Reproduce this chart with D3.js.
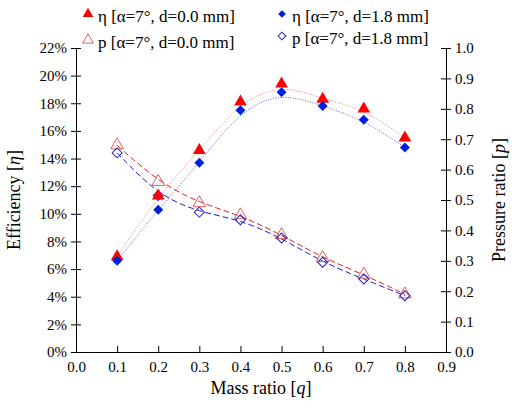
<!DOCTYPE html><html><head><script src="https://cdn.jsdelivr.net/npm/d3@7"></script>
<style>body{margin:0;background:#fff}text{font-family:"Liberation Serif",serif}</style></head><body><svg width="524" height="411"></svg>
<script>
const q=[0.1,0.2,0.3,0.4,0.5,0.6,0.7,0.8];
const effA=[6.9,11.3,14.6,18.1,19.4,18.3,17.6,15.5];
const effB=[6.6,10.3,13.7,17.5,18.8,17.8,16.8,14.8];
const prA=[0.68,0.56,0.49,0.45,0.385,0.31,0.255,0.19];
const prB=[0.655,0.515,0.46,0.435,0.375,0.295,0.24,0.185];
const svg=d3.select("svg");
const L=76,R=446,T=48,B=352;
const x=d3.scaleLinear([0,0.9],[L,R]);
const yl=d3.scaleLinear([0,22],[B,T]);
const yr=d3.scaleLinear([0,1],[B,T]);
const fs="15px";
const ax=svg.append("g").attr("transform",`translate(0,${B})`).call(d3.axisBottom(x).ticks(9).tickFormat(d3.format(".1f")).tickSizeInner(6).tickSizeOuter(0));
ax.selectAll(".tick line").attr("y1",-6).attr("y2",0);
const al=svg.append("g").attr("transform",`translate(${L},0)`).call(d3.axisLeft(yl).tickValues(d3.range(0,23,2)).tickFormat(d=>d+"%").tickSizeOuter(0).tickSizeInner(6));
al.selectAll(".tick line").attr("x1",-5).attr("x2",5);
const ar=svg.append("g").attr("transform",`translate(${R},0)`).call(d3.axisRight(yr).ticks(10).tickFormat(d3.format(".1f")).tickSizeOuter(0).tickSizeInner(6));
ar.selectAll(".tick line").attr("x1",-5).attr("x2",5);
[ax,al,ar].forEach(g=>g.attr("font-family","Liberation Serif").attr("font-size",15));
svg.selectAll(".tick text").style("font-size",fs).style("font-family","'Liberation Serif'");
svg.selectAll(".domain").attr("stroke","#000");
svg.append("text").attr("x",261).attr("y",394).attr("text-anchor","middle").style("font-size","18px").html('Mass ratio [<tspan font-style="italic">q</tspan>]');
svg.append("text").attr("transform","translate(20,200) rotate(-90)").attr("text-anchor","middle").style("font-size","18px").html('Efficiency [<tspan font-style="italic">η</tspan>]');
svg.append("text").attr("transform","translate(505,200) rotate(-90)").attr("text-anchor","middle").style("font-size","18px").html('Pressure ratio [<tspan font-style="italic">p</tspan>]');
function line(ys,sc,color,dash){svg.append("path").attr("d",d3.line().x((d,i)=>x(q[i])).y(d=>sc(d)).curve(d3.curveBasis)(ys)).attr("fill","none").attr("stroke",color).attr("stroke-width",1).attr("stroke-dasharray",dash);}
line(effA,yl,"#f08080","1,1.5");line(effB,yl,"#6060f0","1,1.5");
line(prA,yr,"#e02020","6,3");line(prB,yr,"#2020d0","6,3");
const tri=d3.symbol(d3.symbolTriangle,70)(), dia=d3.symbol(d3.symbolSquare,50)();
function pts(ys,sc,sym,fill,stroke,rot){svg.append("g").selectAll("path").data(ys).join("path").attr("d",sym).attr("transform",(d,i)=>`translate(${x(q[i])},${sc(d)}) rotate(${rot})`).attr("fill",fill).attr("stroke",stroke);}
pts(prA,yr,tri,"none","#e06060",0);pts(prB,yr,dia,"none","#2020c0",45);
pts(effA,yl,tri,"#ff0000","none",0);pts(effB,yl,dia,"#0020e0","none",45);
const leg=[[88,14,d3.symbol(d3.symbolTriangle,50)(),"#ff0000","none",'η [α=7°, d=0.0 mm]',0],[88,40,d3.symbol(d3.symbolTriangle,50)(),"none","#e06060",'p [α=7°, d=0.0 mm]',0],[282,14,d3.symbol(d3.symbolSquare,30)(),"#0020e0","none",'η [α=7°, d=1.8 mm]',45],[282,36,d3.symbol(d3.symbolSquare,30)(),"none","#2020c0",'p [α=7°, d=1.8 mm]',45]];
leg.forEach(l=>{svg.append("path").attr("d",l[2]).attr("transform",`translate(${l[0]},${l[1]}) rotate(${l[6]})`).attr("fill",l[3]).attr("stroke",l[4]);
svg.append("text").attr("x",l[0]+10).attr("y",l[1]+8).style("font-size","17px").text(l[5]);});
</script></body></html>
